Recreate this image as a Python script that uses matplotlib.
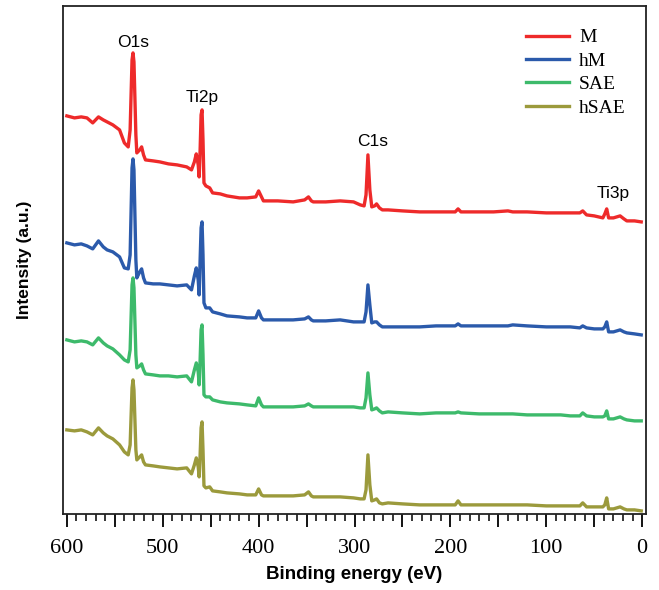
import matplotlib.pyplot as plt
import numpy as np
from matplotlib.ticker import MultipleLocator, FuncFormatter

# binding energy (eV), shared by all four survey spectra
energy = [600, 592, 585, 579, 573, 567, 562, 558, 552, 545, 540, 536, 534, 532, 531, 530,
          528, 527, 524, 522, 520, 518, 510, 503, 494, 485, 475, 470, 467, 465, 463, 462,
          461, 460, 459, 458, 457, 455, 451, 448, 440, 433, 420, 412, 403, 400, 397, 395,
          380, 364, 352, 348, 345, 343, 330, 315, 301, 294, 290, 288, 286, 284, 282, 279,
          277, 274, 271, 265, 250, 232, 215, 195, 192, 189, 170, 155, 140, 135, 120, 100,
          85, 75, 65, 62, 58, 50, 41, 39, 37, 35, 30, 23, 19, 16, 8, 1]

# intensities (a.u., stacked as in the figure)
M = [484, 482, 483, 482, 477, 483, 480, 478, 475, 470, 457, 453, 470, 540, 547, 538,
     465, 447, 450, 453, 445, 440, 439, 438, 436, 435, 433, 430, 438, 446, 435, 423,
     450, 485, 490, 460, 417, 414, 412, 407, 406, 404, 402, 402, 403, 409, 403, 399,
     399, 398, 400, 403, 399, 398, 398, 399, 398, 395, 394, 405, 445, 410, 393, 394,
     396, 392, 390, 390, 389, 388, 388, 388, 391, 388, 388, 388, 389, 388, 388, 387,
     387, 387, 387, 389, 385, 384, 382, 386, 391, 382, 382, 384, 381, 379, 379, 378]
hM = [357, 355, 356, 354, 351, 359, 353, 350, 348, 343, 332, 331, 345, 432, 441, 430,
      340, 322, 328, 331, 322, 317, 316, 316, 315, 314, 315, 310, 324, 332, 320, 305,
      340, 372, 378, 345, 297, 292, 292, 288, 286, 284, 283, 282, 282, 289, 282, 280,
      280, 280, 281, 283, 280, 279, 279, 280, 278, 278, 278, 288, 315, 295, 277, 278,
      278, 275, 273, 273, 273, 273, 274, 274, 276, 274, 274, 274, 274, 275, 274, 273,
      273, 273, 272, 274, 272, 271, 271, 273, 278, 268, 268, 270, 268, 267, 266, 265]
SAE = [260, 258, 259, 258, 255, 262, 257, 254, 251, 245, 240, 238, 250, 315, 322, 312,
       245, 232, 234, 236, 230, 226, 225, 224, 224, 223, 224, 218, 230, 237, 228, 215,
       240, 270, 275, 245, 205, 203, 203, 200, 198, 197, 196, 195, 194, 202, 195, 193,
       193, 193, 194, 196, 194, 193, 193, 193, 193, 192, 192, 202, 227, 205, 190, 191,
       192, 189, 187, 188, 187, 186, 187, 187, 188, 187, 186, 186, 186, 186, 185, 185,
       185, 184, 184, 187, 184, 183, 183, 184, 189, 181, 181, 183, 181, 180, 179, 179]
hSAE = [170, 169, 170, 168, 165, 172, 167, 164, 161, 155, 148, 145, 155, 212, 220, 210,
        150, 140, 143, 145, 138, 135, 134, 133, 132, 131, 132, 126, 135, 142, 133, 123,
        145, 172, 178, 150, 114, 112, 113, 109, 108, 107, 106, 105, 105, 111, 105, 104,
        104, 104, 105, 108, 104, 103, 103, 103, 102, 101, 101, 110, 145, 115, 99, 100,
        101, 97, 96, 97, 96, 95, 95, 95, 99, 95, 95, 95, 95, 95, 95, 94,
        94, 94, 94, 97, 93, 93, 93, 95, 102, 91, 91, 93, 91, 90, 90, 89]

series = [('M', M, '#ee2a2a'), ('hM', hM, '#2b5aab'),
          ('SAE', SAE, '#3dba6b'), ('hSAE', hSAE, '#9b9a3c')]

# peak labels: (text, energy, height)
peaks = [('O1s', 531, 557), ('Ti2p', 459, 502), ('C1s', 281, 458), ('Ti3p', 30, 406)]

fig = plt.figure(figsize=(6.59, 5.90), dpi=100)
ax = fig.add_axes([0.0956, 0.129, 0.8847, 0.861])

for name, vals, col in series:
    ax.plot(energy, vals, color=col, linewidth=2.4, label=name)

for txt, e, h in peaks:
    ax.text(e, h, txt, ha='center', va='center', fontsize=12.5, family='Liberation Sans')

ax.set_xlim(604, -4)
ax.set_ylim(86, 594)
ax.set_yticks([])

ax.xaxis.set_major_locator(MultipleLocator(50))
ax.xaxis.set_minor_locator(MultipleLocator(10))
ax.xaxis.set_major_formatter(FuncFormatter(lambda v, p: '%d' % v if v % 100 == 0 else ''))
ax.tick_params(axis='x', which='major', direction='out', length=9, width=1.3,
               labelsize=16, pad=9)
ax.tick_params(axis='x', which='minor', direction='out', length=5, width=1.1)
for lab in ax.get_xticklabels():
    lab.set_family('Liberation Serif')
for sp in ax.spines.values():
    sp.set_linewidth(1.3)
    sp.set_color('#222222')

ax.set_xlabel('Binding energy (eV)', fontsize=13.5, fontweight='bold',
              family='Liberation Sans', labelpad=6)
ax.set_ylabel('Intensity (a.u.)', fontsize=12.5, fontweight='bold',
              family='Liberation Sans', labelpad=22)

ax.legend(loc='upper left', bbox_to_anchor=(0.795, 0.955), frameon=False,
          prop={'family': 'Liberation Serif', 'size': 14}, handlelength=2.2,
          handletextpad=0.5, labelspacing=0.3, borderpad=0, borderaxespad=0)

plt.savefig('out.png', dpi=100)
